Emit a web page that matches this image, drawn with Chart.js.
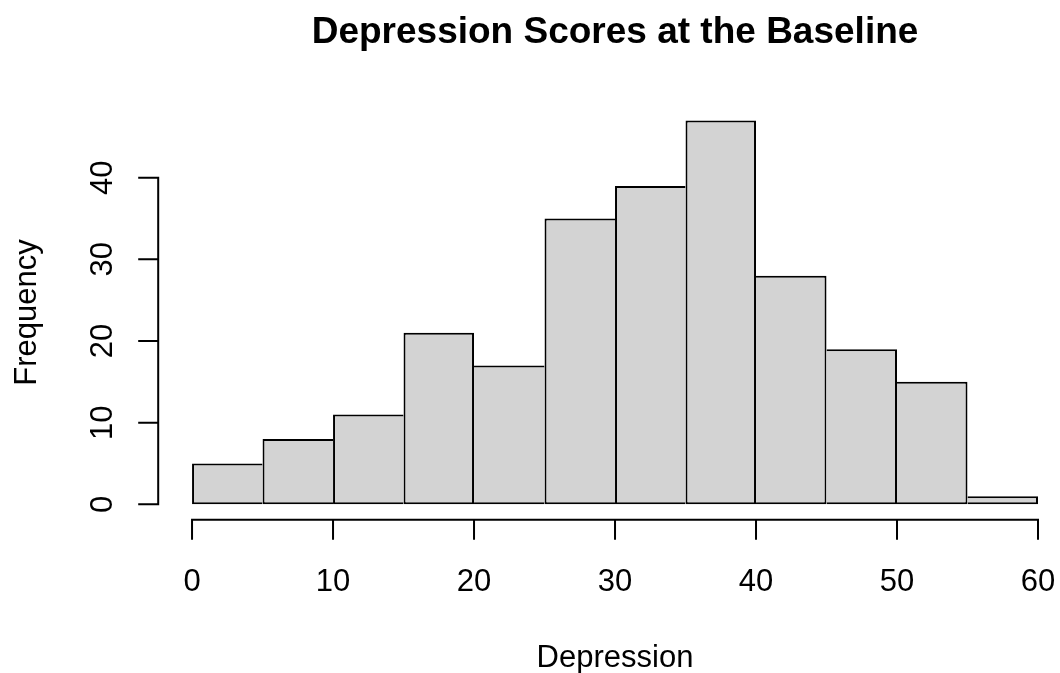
<!DOCTYPE html>
<html>
<head>
<meta charset="utf-8">
<title>Depression Scores at the Baseline</title>
<script src="https://cdn.jsdelivr.net/npm/chart.js@4/dist/chart.umd.min.js"></script>
<style>
  html, body { margin: 0; padding: 0; background: #ffffff; }
  canvas { display: block; }
</style>
</head>
<body>
<canvas id="hist" width="1060" height="673"></canvas>
<script>
// Histogram bin edges and the count in each bin
const breaks = [0, 5, 10, 15, 20, 25, 30, 35, 40, 45, 50, 55, 60];
const counts = [5, 8, 11, 21, 17, 35, 39, 47, 28, 19, 15, 1];

// Axis tick values
const xTickValues = [0, 10, 20, 30, 40, 50, 60];
const yTickValues = [0, 10, 20, 30, 40];

// Text
const titleText = 'Depression Scores at the Baseline';
const xLabel = 'Depression';
const yLabel = 'Frequency';

// One bar per bin, centred on the bin midpoint
const barPoints = counts.map((c, i) => ({ x: (breaks[i] + breaks[i + 1]) / 2, y: c }));

// Axis limits: 4% padding round the data, like R's default range;
// the plot region runs slightly past the right edge of the canvas
const xLo = breaks[0], xHi = breaks[breaks.length - 1];
const yLo = 0, yHi = Math.max(...counts);
const xMin = xLo - 0.04 * (xHi - xLo);
const xMaxVisible = 61.56;
const yMin = yLo - 0.04 * (yHi - yLo);
const yMax = yHi + 0.04 * (yHi - yLo);

const FONT = '"Liberation Sans", Arial, Helvetica, sans-serif';
const TICK_LEN = 19;
const LINE_W = 2;

// Each shared edge between neighbouring bins is outlined once, by the taller bar
function binBorder(i) {
  const last = counts.length - 1;
  const left = (i === 0 || counts[i] >= counts[i - 1]) ? LINE_W : 0;
  const right = (i === last || counts[i] > counts[i + 1]) ? LINE_W : 0;
  return { top: LINE_W, bottom: LINE_W, left, right };
}

// Draws R-style detached axes, tick labels, title and axis labels
const baseGraphics = {
  id: 'baseGraphics',
  afterDraw(chart) {
    const ctx = chart.ctx;
    const xs = chart.scales.x;
    const ys = chart.scales.y;
    const area = chart.chartArea;
    ctx.save();
    ctx.strokeStyle = '#000000';
    ctx.fillStyle = '#000000';
    ctx.lineWidth = LINE_W;
    ctx.lineCap = 'square';

    // x axis line and ticks
    const axisY = area.bottom;
    ctx.beginPath();
    ctx.moveTo(xs.getPixelForValue(xTickValues[0]), axisY);
    ctx.lineTo(xs.getPixelForValue(xTickValues[xTickValues.length - 1]), axisY);
    xTickValues.forEach(v => {
      const p = xs.getPixelForValue(v);
      ctx.moveTo(p, axisY);
      ctx.lineTo(p, axisY + TICK_LEN);
    });
    ctx.stroke();

    // y axis line and ticks
    const axisX = area.left;
    ctx.beginPath();
    ctx.moveTo(axisX, ys.getPixelForValue(yTickValues[0]));
    ctx.lineTo(axisX, ys.getPixelForValue(yTickValues[yTickValues.length - 1]));
    yTickValues.forEach(v => {
      const p = ys.getPixelForValue(v);
      ctx.moveTo(axisX, p);
      ctx.lineTo(axisX - TICK_LEN, p);
    });
    ctx.stroke();

    // tick labels
    ctx.font = '31px ' + FONT;
    ctx.textAlign = 'center';
    ctx.textBaseline = 'alphabetic';
    xTickValues.forEach(v => {
      ctx.fillText(String(v), xs.getPixelForValue(v), axisY + 71);
    });
    yTickValues.forEach(v => {
      ctx.save();
      ctx.translate(axisX - 46.5, ys.getPixelForValue(v));
      ctx.rotate(-Math.PI / 2);
      ctx.fillText(String(v), 0, 0);
      ctx.restore();
    });

    // centre of the full plot region
    const midX = xs.getPixelForValue((xLo + xHi) / 2);
    const midY = (area.top + area.bottom) / 2;

    // axis labels
    ctx.fillText(xLabel, midX, axisY + 147);
    ctx.save();
    ctx.translate(axisX - 122, midY);
    ctx.rotate(-Math.PI / 2);
    ctx.fillText(yLabel, 0, 0);
    ctx.restore();

    // main title
    ctx.font = 'bold 37px ' + FONT;
    ctx.fillText(titleText, midX, 43);

    ctx.restore();
  }
};

new Chart(document.getElementById('hist'), {
  type: 'bar',
  data: {
    datasets: [{
      data: barPoints,
      backgroundColor: '#D3D3D3',
      borderColor: '#000000',
      borderWidth: ctx => binBorder(ctx.dataIndex),
      borderSkipped: false,
      inflateAmount: 0,
      barPercentage: 1,
      categoryPercentage: 1
    }]
  },
  options: {
    responsive: false,
    devicePixelRatio: 1,
    animation: false,
    layout: { padding: { left: 158.2, right: 0, top: 105.2, bottom: 153.3 } },
    plugins: {
      legend: { display: false },
      tooltip: { enabled: false },
      title: { display: false }
    },
    scales: {
      x: {
        type: 'linear',
        display: false,
        offset: false,
        grid: { offset: false },
        min: xMin,
        max: xMaxVisible,
        afterBuildTicks: scale => { scale.ticks = xTickValues.map(v => ({ value: v })); }
      },
      y: {
        type: 'linear',
        display: false,
        min: yMin,
        max: yMax,
        afterBuildTicks: scale => { scale.ticks = yTickValues.map(v => ({ value: v })); }
      }
    }
  },
  plugins: [baseGraphics]
});
</script>
</body>
</html>
